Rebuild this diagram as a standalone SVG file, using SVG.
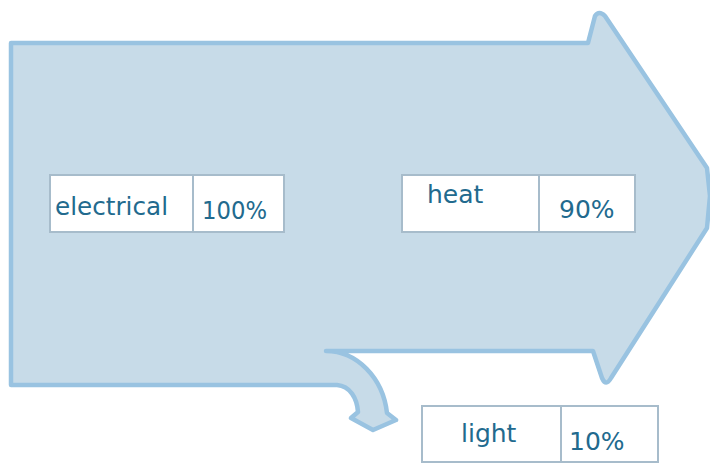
<svg xmlns="http://www.w3.org/2000/svg" width="710" height="464" viewBox="0 0 710 464">
  <style>
    .shape { fill: #c7dbe8; stroke: #99c3e1; stroke-width: 4.5; stroke-linejoin: round; }
    .box { fill: #ffffff; stroke: #a7bccb; stroke-width: 2; }
    .div { stroke: #a7bccb; stroke-width: 2; }
    .lbl { font-family: "Comic Sans MS", "DejaVu Sans", sans-serif; font-size: 25px; fill: #226a8e; }
  </style>
  <rect width="710" height="464" fill="#ffffff"/>
  <g id="connectors">
    <path class="shape" d="M 11,43 L 588,43 L 595,16 Q 599,10 605,16 L 707,168 L 710,196 L 707,228 L 611,378 Q 606,387 602,378 L 593,351 L 326,351 C 357,351 383,378 387,413 L 396,420 L 373,430 L 351,418 L 358,412 C 357,398 350,386 337,385 L 11,385 Z"/>
  </g>
  <g id="node-electrical">
    <rect class="box" x="50" y="175" width="234" height="57"/>
    <line class="div" x1="193" y1="175" x2="193" y2="232"/>
    <text class="lbl" x="55" y="215" textLength="113" lengthAdjust="spacingAndGlyphs">electrical</text>
    <text class="lbl" x="202" y="219" textLength="65" lengthAdjust="spacingAndGlyphs">100%</text>
  </g>
  <g id="node-heat">
    <rect class="box" x="402" y="175" width="233" height="57"/>
    <line class="div" x1="539" y1="175" x2="539" y2="232"/>
    <text class="lbl" x="427" y="203">heat</text>
    <text class="lbl" x="559" y="218">90%</text>
  </g>
  <g id="node-light">
    <rect class="box" x="422" y="406" width="236" height="56"/>
    <line class="div" x1="561" y1="406" x2="561" y2="462"/>
    <text class="lbl" x="461" y="442">light</text>
    <text class="lbl" x="569" y="450">10%</text>
  </g>
</svg>
